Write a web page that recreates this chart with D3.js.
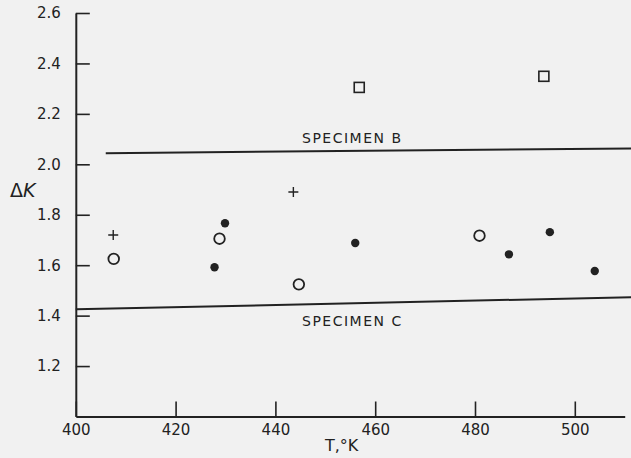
<!DOCTYPE html>
<html>
<head>
<meta charset="utf-8">
<script src="https://cdn.jsdelivr.net/npm/d3@7"></script>
<style>
  body { margin: 0; background: #f1f1f1; }
  svg { display: block; }
  text { font-family: "DejaVu Sans", sans-serif; fill: #222; }
</style>
</head>
<body>
<svg id="canvas" width="631" height="458"></svg>
<script>
// readings
let plusPts = [[407.5, 1.72], [443.6, 1.89]];
let openPts = [[407.6, 1.625], [428.8, 1.705], [444.7, 1.524], [480.9, 1.717]];
let filledPts = [[427.8, 1.592], [429.9, 1.766], [456.0, 1.688], [486.8, 1.643], [495.0, 1.731], [504.0, 1.577]];
let squarePts = [[456.8, 2.305], [493.8, 2.349]];
let specimenB = [[406, 2.044], [511.5, 2.063]];
let specimenC = [[400, 1.425], [511.5, 1.473]];
let xTicks = [400, 420, 440, 460, 480, 500];
let yTicks = [1.2, 1.4, 1.6, 1.8, 2.0, 2.2, 2.4, 2.6];

let canvas = d3.select('#canvas');
let ink = '#222';

let x = d3.scaleLinear().domain([400, 510]).range([75.8, 624.7]);
let y = d3.scaleLinear().domain([1.0, 2.6]).range([416.5, 13]);

// axes, ticks point inward
let yAxis = d3.axisLeft(y)
    .tickValues(yTicks)
    .tickFormat(d3.format('.1f'))
    .tickSizeInner(-14)
    .tickSizeOuter(0)
    .tickPadding(15);

let xAxis = d3.axisBottom(x)
    .tickValues(xTicks)
    .tickFormat(d3.format('d'))
    .tickSizeInner(-15)
    .tickSizeOuter(0)
    .tickPadding(8);

let gy = canvas.append('g')
    .attr('transform', 'translate(' + x(400) + ',0)')
    .call(yAxis);

let gx = canvas.append('g')
    .attr('transform', 'translate(0,' + y(1.0) + ')')
    .call(xAxis);

[gx, gy].forEach((g) => {
    g.select('.domain').attr('stroke', ink).attr('stroke-width', 2);
    g.selectAll('.tick line').attr('stroke', ink).attr('stroke-width', 1.6);
    g.selectAll('.tick text')
        .style('font-size', '15px')
        .style('font-family', '"DejaVu Sans", sans-serif')
        .attr('fill', ink);
});

// axis titles
canvas.append('text')
    .attr('x', 10)
    .attr('y', 197)
    .style('font-size', '19px')
    .html('Δ<tspan font-style="italic">K</tspan>');

canvas.append('text')
    .attr('x', 325)
    .attr('y', 451)
    .style('font-size', '16px')
    .text('T,°K');

// specimen lines
let line = d3.line()
    .x((d) => x(d[0]))
    .y((d) => y(d[1]));

[specimenB, specimenC].forEach((s) => {
    canvas.append('path')
        .attr('d', line(s))
        .attr('fill', 'none')
        .attr('stroke', ink)
        .attr('stroke-width', 2);
});

canvas.append('text')
    .attr('x', 302)
    .attr('y', 143)
    .style('font-size', '14px')
    .style('letter-spacing', '1.5px')
    .text('SPECIMEN  B');

canvas.append('text')
    .attr('x', 302)
    .attr('y', 326)
    .style('font-size', '14px')
    .style('letter-spacing', '1.5px')
    .text('SPECIMEN  C');

// markers
canvas.selectAll('circle.open')
    .data(openPts)
    .enter()
    .append('circle')
    .attr('class', 'open')
    .attr('cx', (d) => x(d[0]))
    .attr('cy', (d) => y(d[1]))
    .attr('r', 5.3)
    .attr('fill', 'none')
    .attr('stroke', ink)
    .attr('stroke-width', 1.8);

canvas.selectAll('circle.filled')
    .data(filledPts)
    .enter()
    .append('circle')
    .attr('class', 'filled')
    .attr('cx', (d) => x(d[0]))
    .attr('cy', (d) => y(d[1]))
    .attr('r', 4.2)
    .attr('fill', ink);

canvas.selectAll('rect.sq')
    .data(squarePts)
    .enter()
    .append('rect')
    .attr('class', 'sq')
    .attr('x', (d) => x(d[0]) - 5)
    .attr('y', (d) => y(d[1]) - 5)
    .attr('width', 10)
    .attr('height', 10)
    .attr('fill', 'none')
    .attr('stroke', ink)
    .attr('stroke-width', 1.6);

canvas.selectAll('path.plus')
    .data(plusPts)
    .enter()
    .append('path')
    .attr('class', 'plus')
    .attr('d', (d) => {
        let cx = x(d[0]), cy = y(d[1]);
        return 'M' + (cx - 5) + ',' + cy + 'H' + (cx + 5) + 'M' + cx + ',' + (cy - 5) + 'V' + (cy + 5);
    })
    .attr('stroke', ink)
    .attr('stroke-width', 1.4);
</script>
</body>
</html>
